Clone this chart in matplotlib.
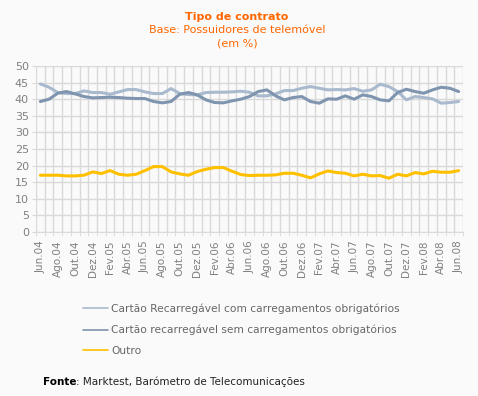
import numpy as np
import matplotlib.pyplot as plt

meses = ['Jun', 'Jul', 'Ago', 'Set', 'Out', 'Nov', 'Dez', 'Jan', 'Fev', 'Mar', 'Abr', 'Mai']
categorias = []
ano = 4
for k in range(49):
    m = meses[k % 12]
    if m == 'Jan':
        ano += 1
    categorias.append('%s.%02d' % (m, ano))

com_carreg = [44.6, 43.6, 42.0, 41.7, 41.7, 42.5, 42.0, 42.0, 41.5, 42.2, 42.9, 42.9, 42.2,
              41.7, 41.7, 43.2, 41.7, 41.4, 41.3, 42.0, 42.1, 42.1, 42.2, 42.4, 42.1,
              41.0, 41.0, 41.6, 42.6, 42.6, 43.3, 43.8, 43.3, 42.8, 42.9, 42.8, 43.2,
              42.4, 42.8, 44.5, 43.8, 42.3, 39.8, 40.8, 40.5, 40.1, 38.8, 39.0, 39.3]
sem_carreg = [39.3, 40.0, 41.8, 42.3, 41.6, 40.8, 40.4, 40.5, 40.6, 40.5, 40.3, 40.2, 40.2,
              39.3, 38.9, 39.3, 41.5, 42.0, 41.3, 39.8, 39.0, 38.9, 39.5, 40.0, 40.8,
              42.3, 42.8, 41.0, 39.8, 40.5, 40.8, 39.3, 38.8, 40.1, 40.0, 41.0, 40.0,
              41.3, 40.8, 39.8, 39.5, 42.0, 43.0, 42.3, 41.8, 42.8, 43.6, 43.3, 42.3]
outro = [17.1, 17.1, 17.1, 16.9, 16.9, 17.1, 18.1, 17.6, 18.5, 17.4, 17.1, 17.4, 18.5,
         19.7, 19.7, 18.1, 17.5, 17.1, 18.2, 18.9, 19.4, 19.4, 18.3, 17.3, 17.0,
         17.1, 17.1, 17.2, 17.7, 17.7, 17.1, 16.3, 17.5, 18.4, 17.9, 17.7, 16.9,
         17.4, 16.9, 17.0, 16.2, 17.4, 16.9, 17.9, 17.5, 18.3, 18.0, 18.0, 18.5]

bg = '#FAFAFA'
laranja = '#FF6600'
cinza = '#808080'
grelha = '#D9D9D9'

fig = plt.figure(figsize=(4.78, 3.96), dpi=100, facecolor=bg)
ax = fig.add_axes([36/478, 1-232/396, 427/478, 166/396], facecolor=bg)

x = np.arange(len(categorias))
l1, = ax.plot(x, com_carreg, color='#A9BACE', lw=2.2, solid_capstyle='round')
l2, = ax.plot(x, sem_carreg, color='#7F95AF', lw=2.2, solid_capstyle='round')
l3, = ax.plot(x, outro, color='#FFC000', lw=2.2, solid_capstyle='round')

ax.set_xlim(-0.5, len(categorias) - 0.5)
ax.set_ylim(0, 50)
ax.set_yticks(np.arange(0, 51, 5))
ax.set_xticks(x[::2])
ax.set_xticklabels(categorias[::2], rotation=90)
ax.set_xticks(np.arange(-0.5, len(categorias)), minor=True)
ax.tick_params(axis='x', which='major', length=0, pad=6, labelsize=7.5, colors=cinza)
ax.tick_params(axis='x', which='minor', length=3, color=grelha, direction='out')
ax.tick_params(axis='y', length=3, color=grelha, labelsize=8, colors=cinza, pad=2)
ax.grid(True, which='minor', axis='x', color=grelha, lw=1)
ax.grid(True, which='major', axis='y', color=grelha, lw=1)
ax.set_axisbelow(True)
for s in ax.spines.values():
    s.set_visible(False)
ax.spines['bottom'].set_visible(True)
ax.spines['bottom'].set_color(grelha)

fig.text(0.496, 1-17/396, 'Tipo de contrato', ha='center', va='center',
         color=laranja, fontsize=8, fontweight='bold')
fig.text(0.496, 1-30/396, 'Base: Possuidores de telemóvel', ha='center', va='center',
         color=laranja, fontsize=8)
fig.text(0.496, 1-44/396, '(em %)', ha='center', va='center', color=laranja, fontsize=8)

fig.legend([l1, l2, l3],
           ['Cartão Recarregável com carregamentos obrigatórios',
            'Cartão recarregável sem carregamentos obrigatórios',
            'Outro'],
           loc='upper left', bbox_to_anchor=(73/478, 1-294/396), frameon=False,
           fontsize=7.7, labelcolor='#666666', handlelength=2.4, handletextpad=0.25,
           labelspacing=1.0)
for h in fig.legends[0].legend_handles:
    h.set_linewidth(1.2)

t = fig.text(43/478, 1-382/396, 'Fonte', ha='left', va='center', fontsize=7.5,
             fontweight='bold', color='black')
fig.canvas.draw()
bb = t.get_window_extent()
fig.text(bb.x1/478, 1-382/396, ': Marktest, Barómetro de Telecomunicações', ha='left',
         va='center', fontsize=7.5, color='#222222')

fig.savefig('out.png', dpi=100, facecolor=bg)
